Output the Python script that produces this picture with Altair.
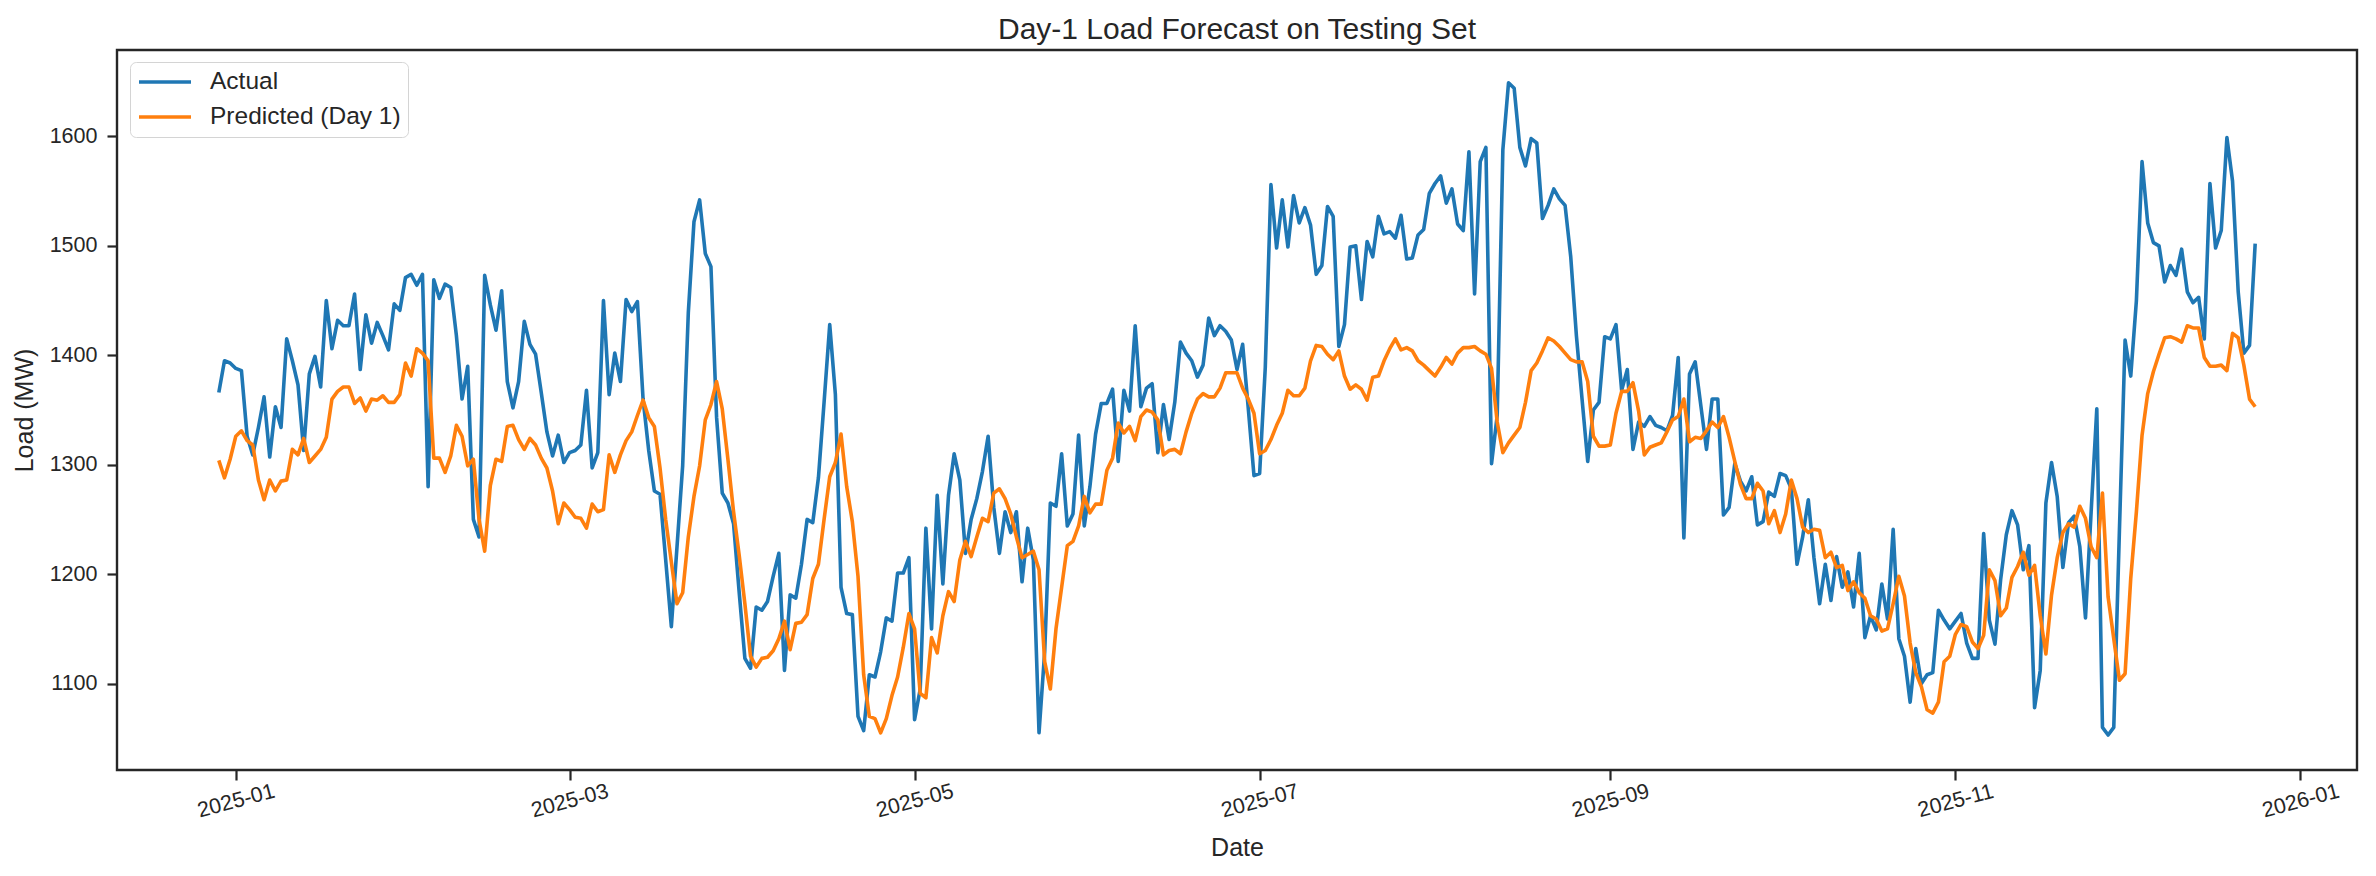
import altair as alt
import pandas as pd

start_date = "2024-12-29"

actual = [
    1366, 1395, 1393, 1388, 1386, 1326, 1309, 1334, 1362, 1307, 1353, 1334, 1415, 1395, 1373, 1313, 1383, 1399, 1371, 1450,
    1406, 1432, 1427, 1427, 1456, 1387, 1437, 1411, 1430, 1418, 1405, 1447, 1441, 1471, 1474, 1464, 1474, 1280, 1469, 1452,
    1465, 1462, 1418, 1360, 1390,
    1250, 1234, 1473, 1446, 1423, 1459, 1376, 1352, 1376, 1431, 1410, 1401, 1366, 1330, 1308, 1327, 1302, 1311, 1313, 1318,
    1368, 1297, 1311, 1450, 1364, 1402, 1376, 1451, 1440, 1449, 1360, 1313, 1276, 1273, 1213, 1152, 1225, 1299, 1439, 1522,
    1542, 1493, 1481, 1343, 1274, 1265,
    1246, 1183, 1123, 1114, 1170, 1167, 1175, 1198, 1219, 1112, 1181, 1178, 1209, 1250, 1247, 1288, 1357, 1428, 1364, 1188,
    1164, 1163, 1070, 1057, 1108, 1106, 1129, 1160, 1157, 1201, 1201, 1215, 1067, 1095, 1242, 1150, 1272, 1191, 1272, 1310,
    1286, 1219, 1250, 1269, 1294, 1326,
    1261, 1219, 1257, 1238, 1257, 1193, 1242, 1213, 1055, 1129, 1265, 1262, 1310, 1244, 1255, 1327, 1244, 1280, 1328, 1356,
    1356, 1369, 1303, 1368, 1349, 1427, 1353, 1370, 1374, 1311, 1355, 1323, 1357, 1412, 1402, 1395, 1380, 1391, 1434, 1418,
    1427, 1422, 1414, 1387, 1410, 1351,
    1290, 1292, 1389, 1556, 1498, 1542, 1499, 1546, 1521, 1535, 1519, 1474, 1482, 1536, 1527, 1408, 1428, 1499, 1500, 1451,
    1504, 1490, 1527, 1511, 1513, 1507, 1528, 1488, 1489, 1510, 1515, 1548, 1557, 1564, 1539, 1552, 1520, 1514, 1586, 1456,
    1577, 1590, 1301, 1345, 1588, 1649,
    1644, 1590, 1573, 1598, 1594, 1525, 1537, 1552, 1543, 1537, 1490, 1418, 1360, 1303, 1350, 1357, 1417, 1415, 1428, 1368,
    1387, 1314, 1339, 1335, 1344, 1336, 1334, 1331, 1345, 1398, 1233, 1383, 1394, 1354, 1314, 1360, 1360, 1254, 1261, 1301,
    1285, 1276, 1289, 1245, 1248, 1275,
    1271, 1292, 1290, 1278, 1209, 1234, 1268, 1215, 1173, 1209, 1176, 1216, 1188, 1202, 1170, 1219, 1142, 1162, 1149, 1191,
    1159, 1241, 1141, 1125, 1083, 1132, 1100, 1108, 1110, 1167, 1158, 1150, 1157, 1164, 1137, 1123, 1123, 1237, 1158, 1136,
    1195, 1236, 1258, 1245, 1204, 1226,
    1078, 1112, 1265, 1302, 1271, 1206, 1247, 1253, 1225, 1160, 1257, 1351, 1060, 1053, 1060, 1240, 1414, 1381, 1450, 1577,
    1521, 1503, 1500, 1467, 1482, 1473, 1497, 1458, 1448, 1453, 1415, 1557, 1498, 1514, 1599, 1559, 1458, 1402, 1409, 1502,
]

predicted = [
    1304, 1288, 1305, 1326, 1331, 1322, 1318, 1286, 1268, 1286, 1276, 1285, 1286, 1314, 1309, 1324, 1302, 1308, 1314, 1325,
    1360, 1367, 1371, 1371, 1356, 1361, 1349, 1360, 1359, 1363, 1357, 1357, 1364, 1393, 1381, 1406, 1402, 1395, 1306, 1306,
    1293, 1308, 1336, 1326, 1299,
    1305, 1250, 1221, 1281, 1305, 1303, 1335, 1336, 1323, 1314, 1324, 1318, 1306, 1297, 1276, 1246, 1265, 1259, 1252, 1251,
    1242, 1264, 1257, 1259, 1309, 1293, 1309, 1322, 1330, 1345, 1359, 1343, 1335, 1297, 1250, 1211, 1173, 1183, 1234, 1271,
    1299, 1341, 1355, 1376, 1351, 1305,
    1257, 1217, 1173, 1125, 1115, 1123, 1124, 1130, 1141, 1157, 1131, 1155, 1156, 1163, 1196, 1209, 1250, 1289, 1302, 1328,
    1280, 1248, 1198, 1108, 1070, 1068, 1055, 1068, 1089, 1106, 1133, 1164, 1150, 1091, 1087, 1142, 1128, 1162, 1184, 1175,
    1213, 1230, 1216, 1234, 1251, 1248,
    1274, 1278, 1269, 1255, 1234, 1215, 1218, 1221, 1204, 1120, 1095, 1150, 1188, 1226, 1230, 1244, 1271, 1256, 1264, 1264,
    1295, 1306, 1338, 1329, 1335, 1322, 1344, 1350, 1348, 1341, 1309, 1313, 1314, 1310, 1330, 1347, 1360, 1365, 1362, 1362,
    1370, 1384, 1384, 1384, 1370, 1360,
    1347, 1310, 1313, 1323, 1336, 1347, 1368, 1363, 1363, 1370, 1395, 1409, 1408, 1401, 1396, 1404, 1381, 1369, 1373, 1369,
    1359, 1380, 1381, 1395, 1406, 1415, 1405, 1407, 1404, 1395, 1391, 1386, 1381, 1389, 1398, 1392, 1402, 1407, 1407, 1408,
    1404, 1401, 1388, 1339, 1311, 1320,
    1327, 1334, 1357, 1386, 1393, 1404, 1416, 1413, 1408, 1402, 1396, 1394, 1394, 1376, 1326, 1317, 1317, 1318, 1347, 1367,
    1367, 1375, 1349, 1309, 1316, 1318, 1320, 1330, 1341, 1344, 1360, 1321, 1325, 1324, 1331, 1339, 1334, 1344, 1325, 1303,
    1282, 1269, 1269, 1283, 1276, 1246,
    1258, 1238, 1255, 1286, 1269, 1243, 1238, 1241, 1240, 1215, 1220, 1206, 1208, 1185, 1193, 1183, 1178, 1162, 1159, 1148,
    1150, 1173, 1198, 1180, 1137, 1110, 1097, 1076, 1073, 1083, 1120, 1125, 1145, 1154, 1152, 1138, 1132, 1144, 1204, 1194,
    1162, 1169, 1197, 1207, 1220, 1199,
    1208, 1162, 1127, 1181, 1215, 1238, 1246, 1243, 1262, 1251, 1225, 1215, 1274, 1179, 1141, 1103, 1109, 1196, 1257, 1327,
    1365, 1385, 1401, 1416, 1417, 1415, 1412, 1427, 1425, 1425, 1398, 1390, 1390, 1391, 1386, 1420, 1416, 1391, 1360, 1353,
]

series_names = ["Actual", "Predicted (Day 1)"]
series_colors = ["#1f77b4", "#ff7f0e"]
y_ticks = [1100, 1200, 1300, 1400, 1500, 1600]
x_tick_months = [(2025, 1), (2025, 3), (2025, 5), (2025, 7), (2025, 9), (2025, 11), (2026, 1)]

dates = pd.date_range(start_date, periods=len(actual), freq="D").strftime("%Y-%m-%dT00:00:00")
df = pd.DataFrame({"Date": dates, series_names[0]: actual, series_names[1]: predicted})

FONT = "Liberation Sans"
INK = "#262626"

x_values = [alt.DateTime(year=y, month=m, date=1) for y, m in x_tick_months]

chart = (
    alt.Chart(df)
    .transform_fold(series_names, as_=["Series", "Load"])
    .mark_line(strokeWidth=3.6, strokeJoin="round")
    .encode(
        x=alt.X(
            "Date:T",
            scale=alt.Scale(
                domain=[alt.DateTime(year=2024, month=12, date=11), alt.DateTime(year=2026, month=1, date=11)],
                nice=False,
            ),
            axis=alt.Axis(
                values=x_values,
                format="%Y-%m",
                labelAngle=345,
                labelAlign="center",
                labelBaseline="middle",
                labelPadding=21,
                labelFontSize=21.5,
                labelFont=FONT,
                labelColor=INK,
                tickSize=10,
                tickWidth=2.2,
                tickColor=INK,
                domain=False,
                grid=False,
                title="Date",
                titleFont=FONT,
                titleFontSize=25,
                titleFontWeight="normal",
                titleColor=INK,
                titleBaseline="middle",
                titleY=77,
                labelOverlap=False,
            ),
        ),
        y=alt.Y(
            "Load:Q",
            scale=alt.Scale(domain=[1021, 1679], nice=False, zero=False),
            axis=alt.Axis(
                values=y_ticks,
                format="d",
                labelPadding=10,
                labelFontSize=21.5,
                labelFont=FONT,
                labelColor=INK,
                tickSize=10,
                tickWidth=2.2,
                tickColor=INK,
                domain=False,
                grid=False,
                title="Load (MW)",
                titleFont=FONT,
                titleFontSize=25,
                titleFontWeight="normal",
                titleColor=INK,
                titleBaseline="middle",
                titleX=-93,
                titleY=360,
            ),
        ),
        color=alt.Color(
            "Series:N",
            scale=alt.Scale(domain=series_names, range=series_colors),
            legend=alt.Legend(
                title=None,
                orient="none",
                legendX=13,
                legendY=12,
                symbolType="stroke",
                symbolSize=2704,
                symbolStrokeWidth=3.6,
                clipHeight=26,
                labelFont=FONT,
                labelFontSize=24.5,
                labelColor=INK,
                labelLimit=400,
                labelOffset=17,
                padding=7,
                rowPadding=9,
                strokeColor="#d4d4d4",
                fillColor="white",
                cornerRadius=6,
            ),
        ),
    )
    .properties(
        width=2240,
        height=720,
        padding={"left": 117, "top": 50, "right": 19, "bottom": 106},
        autosize=alt.AutoSizeParams(type="none"),
        title=alt.TitleParams(
            text="Day-1 Load Forecast on Testing Set",
            font=FONT,
            fontSize=30,
            fontWeight="normal",
            color=INK,
            anchor="middle",
            offset=5,
        ),
        background="white",
    )
    .configure_view(stroke=INK, strokeWidth=2.4)
)

chart.save("out.html", embed_options={"renderer": "svg", "actions": False})
